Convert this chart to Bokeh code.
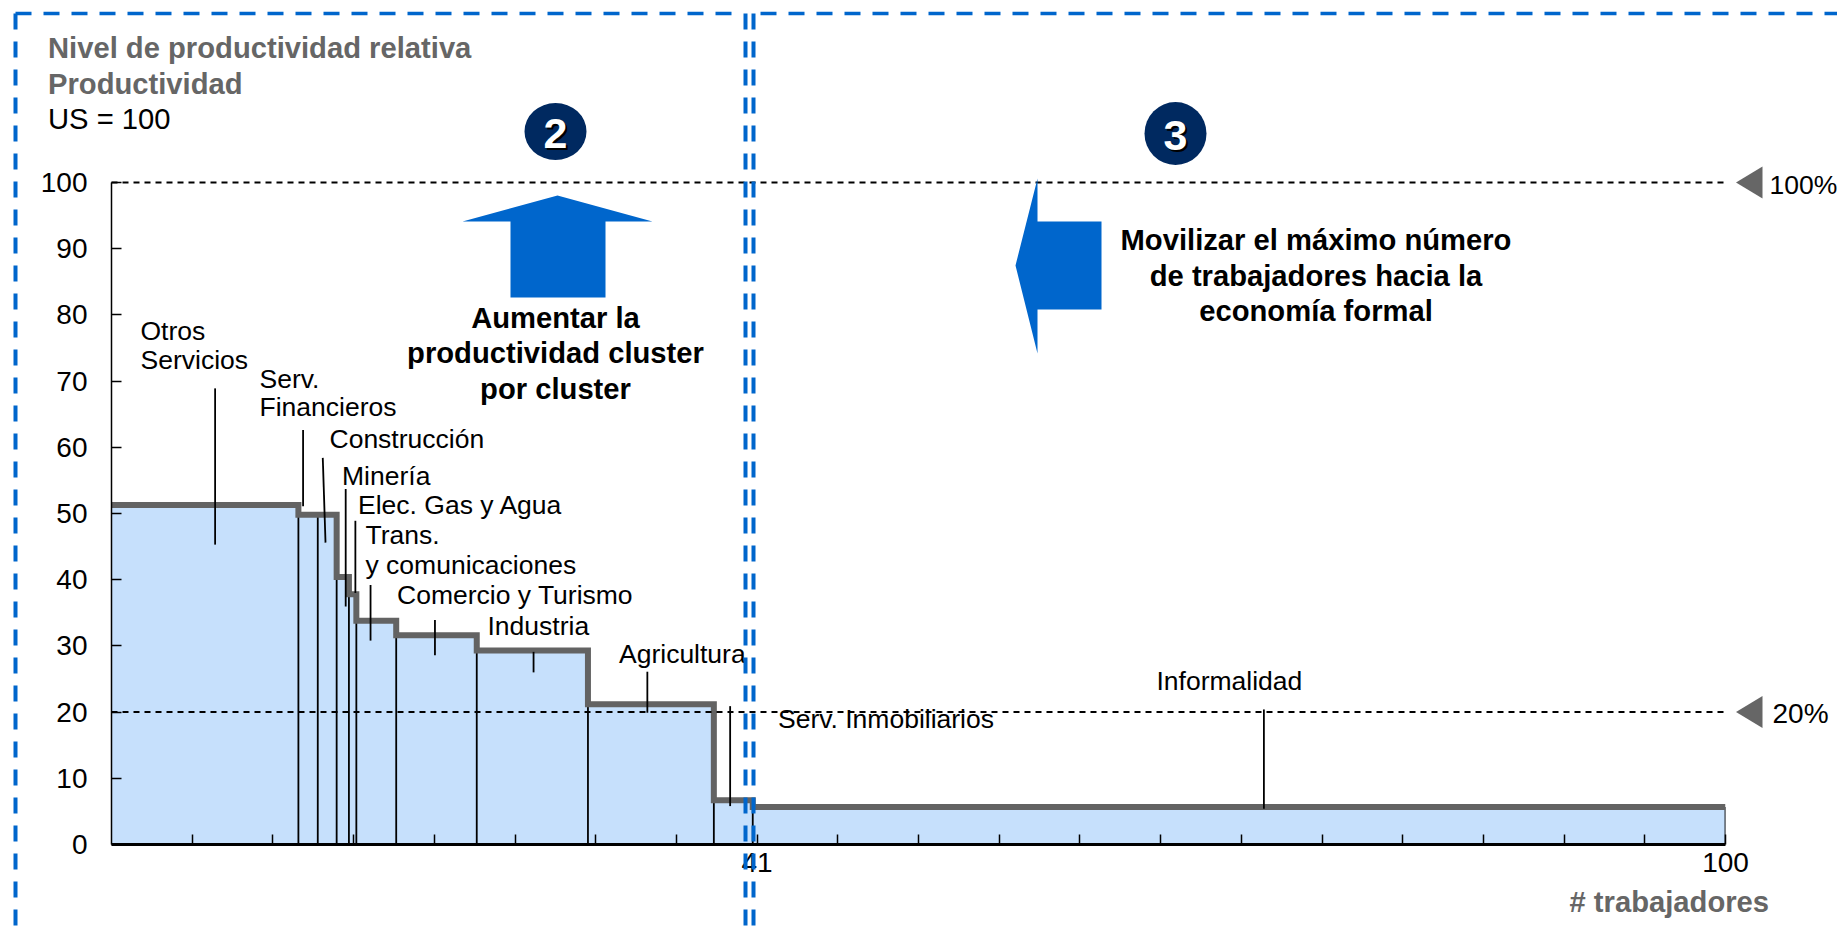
from bokeh.plotting import figure
from bokeh.embed import file_html
from bokeh.resources import INLINE
from bokeh.core.properties import value
from bokeh.models import Range1d, FixedTicker

# ---- data ----
cum_workers = [0, 11.58, 12.78, 13.95, 14.71, 15.17, 17.64, 22.63, 29.52, 37.32, 39.73, 100]
productivity = [51.3, 49.8, 49.8, 40.4, 37.8, 33.8, 31.6, 29.3, 21.2, 6.7, 5.67]
y_ticks = [0, 10, 20, 30, 40, 50, 60, 70, 80, 90, 100]
x_ticks = [5, 10, 15, 20, 25, 30, 35, 40, 45, 50, 55, 60, 65, 70, 75, 80, 85, 90, 95, 100]
x_tick_labels = {40: "41", 100: "100"}
reference_levels = [100, 20]
reference_labels = ["100%", "20%"]
leader_x0 = [6.42, 11.87, 13.09, 14.51, 15.11, 16.05, 20.04, 26.15, 33.2, 38.33, 71.4]
leader_x1 = [6.42, 11.87, 13.26, 14.51, 15.11, 16.05, 20.04, 26.15, 33.2, 38.33, 71.4]
leader_top = [68.9, 62.6, 58.4, 53.7, 48.9, 39.2, 33.9, 29.1, 26.1, 20.9, 20.4]
leader_bottom = [45.3, 51.1, 45.6, 35.95, 38.0, 30.8, 28.6, 26.0, 19.9, 5.8, 5.4]

FONT = value("Liberation Sans")
GREY = "#666666"
BLUE = "#0066CC"
NAVY = "#002960"
FILL = "#C6E0FC"
STEP = "#636363"

# pixel geometry of the plot frame in the page
FX0, FX1, FY0, FY1 = 111, 1725, 844, 182


def X(px):
    return (px - FX0) / (FX1 - FX0) * 100


def Y(py):
    return (FY0 - py) / (FY0 - FY1) * 100


p = figure(width=1837, height=928, output_backend="svg", toolbar_location=None,
           x_range=Range1d(0, 100), y_range=Range1d(0, 100),
           min_border_left=FX0, min_border_right=1837 - FX1,
           min_border_top=FY1, min_border_bottom=928 - FY0)
p.outline_line_color = None
p.grid.visible = False
p.background_fill_color = "white"
p.border_fill_color = "white"

# axes
p.yaxis.ticker = FixedTicker(ticks=y_ticks)
p.yaxis.major_tick_in = 10
p.yaxis.major_tick_out = 0
p.yaxis.minor_tick_line_color = None
p.yaxis.axis_line_width = 1.5
p.yaxis.major_tick_line_width = 1.5
p.yaxis.major_label_standoff = 24
p.yaxis.major_label_text_font = "Liberation Sans"
p.yaxis.major_label_text_font_size = "28px"
p.yaxis.major_label_text_color = "black"

p.xaxis.ticker = FixedTicker(ticks=x_ticks)
p.xaxis.major_label_overrides = {t: x_tick_labels.get(t, "") for t in x_ticks}
p.xaxis.major_tick_in = 10
p.xaxis.major_tick_out = 0
p.xaxis.minor_tick_line_color = None
p.xaxis.axis_line_width = 3
p.xaxis.major_tick_line_width = 1.5
p.xaxis.major_label_standoff = 8
p.xaxis.major_label_text_font = "Liberation Sans"
p.xaxis.major_label_text_font_size = "28px"
p.xaxis.major_label_text_color = "black"

# blocks, separators, step outline
p.quad(left=cum_workers[:-1], right=cum_workers[1:], top=productivity, bottom=0,
       fill_color=FILL, line_color=None)
p.segment(cum_workers[1:], [0] * len(productivity), cum_workers[1:],
          productivity[1:] + productivity[-1:], line_color="black", line_width=1.8)
p.step(cum_workers, productivity + productivity[-1:], mode="after",
       line_color=STEP, line_width=6, line_join="miter", line_cap="butt")

# reference lines
p.segment([0] * len(reference_levels), reference_levels,
          [100] * len(reference_levels), reference_levels,
          line_color="black", line_width=2, line_dash="6 5", level="overlay")

# leaders
p.segment(leader_x0, leader_top, leader_x1, leader_bottom, line_color="black",
          line_width=1.8, level="overlay")


def poly(pts, color):
    p.patch([X(a) for a, b in pts], [Y(b) for a, b in pts], fill_color=color,
            line_color=None, level="overlay")


def label(px, py, txt, size=26.5, bold=False, color="black", align="left"):
    # the renderer sets "alphabetic" text lower than the given baseline
    p.text(x=[X(px - 1)], y=[Y(py)], text=[txt], text_font=FONT, y_offset=-0.32 * size,
           text_font_size=value(f"{size}px"),
           text_font_style="bold" if bold else "normal",
           text_color=color, text_align=align, text_baseline="alphabetic",
           level="overlay")


# markers at the right
for lvl, lab, lx, fs in zip(reference_levels, reference_labels, [1770, 1773], [26.5, 28]):
    cy = FY0 - lvl * (FY0 - FY1) / 100
    poly([(1735.5, cy), (1762, cy - 16), (1762, cy + 16)], GREY)
    label(lx, cy + 10.5, lab, size=fs)

# block arrows
poly([(557, 195), (652, 221), (605, 221), (605, 297), (510, 297), (510, 221), (462, 221)], BLUE)
poly([(1015, 265), (1037, 178), (1037, 221), (1101, 221), (1101, 309), (1037, 309), (1037, 353)], BLUE)

# numbered circles
for cx, cy, w, h in [(555, 131, 62, 57), (1175, 133, 62, 63)]:
    p.ellipse(x=[X(cx)], y=[Y(cy)], width=w, height=h, width_units="screen",
              height_units="screen", fill_color=NAVY, line_color=None, level="overlay")
for cx, cy, num in [(555, 131, "2"), (1175, 133, "3")]:
    label(cx + 3, cy + 18, num, size=43, bold=True, color="black", align="center")
    label(cx + 1, cy + 16, num, size=43, bold=True, color="white", align="center")

# heading
label(48.5, 57, "Nivel de productividad relativa", size=29.2, bold=True, color=GREY)
label(48.5, 93, "Productividad", size=29.2, bold=True, color=GREY)
label(48.5, 128, "US = 100", size=29.2)

# bold call-outs
for py, t in [(327, "Aumentar la"), (362, "productividad cluster"), (398, "por cluster")]:
    label(556, py, t, size=29.2, bold=True, align="center")
for py, t in [(249, "Movilizar el máximo número"), (285, "de trabajadores hacia la"), (320, "economía formal")]:
    label(1316.5, py, t, size=29.2, bold=True, align="center")

# cluster names
for px, py, t in [
    (141, 339, "Otros"), (141, 367.5, "Servicios"),
    (260, 387, "Serv."), (260, 415, "Financieros"),
    (330, 447, "Construcción"), (342.5, 484, "Minería"),
    (358.5, 512.5, "Elec. Gas y Agua"), (366, 543, "Trans."),
    (366, 572.5, "y comunicaciones"), (397.5, 602.5, "Comercio y Turismo"),
    (488, 633.5, "Industria"), (619.5, 661.5, "Agricultura"),
    (778.5, 727, "Serv. Inmobiliarios"), (1157, 689, "Informalidad"),
]:
    label(px, py, t)

label(1570, 910.5, "# trabajadores", size=29.2, bold=True, color=GREY)

# dashed cluster frames, on top of everything
def frame_line(pts, w):
    p.line([X(a) for a, b in pts], [Y(b) for a, b in pts], line_color=BLUE,
           line_width=w, line_dash="16 12", level="overlay")


frame_line([(15, 13), (740, 13)], 3.5)
frame_line([(760, 13), (1837, 13)], 3.5)
frame_line([(15, 13), (15, 928)], 4)
frame_line([(745, 13), (745, 928)], 4)
frame_line([(753, 13), (753, 928)], 4)

open("out.html", "w").write(file_html(p, INLINE))
